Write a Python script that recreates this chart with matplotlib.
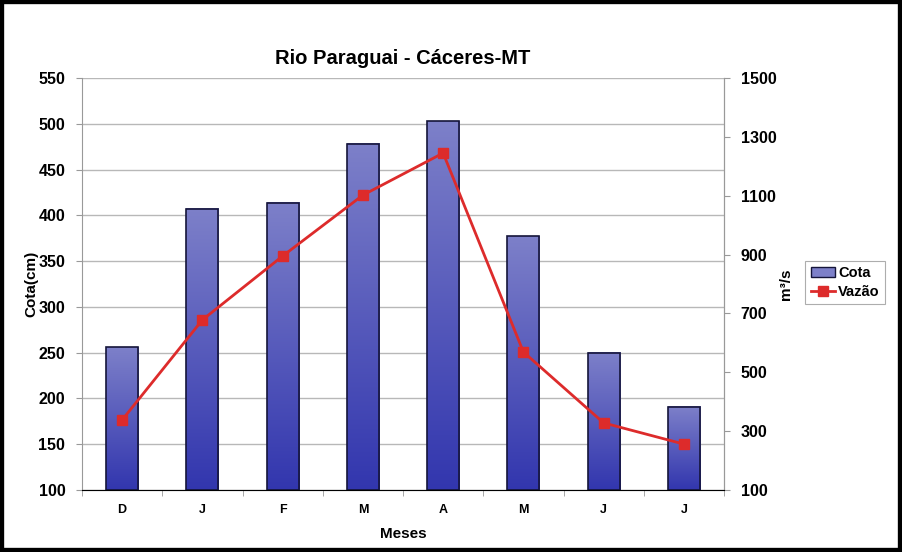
import numpy as np
import matplotlib.pyplot as plt
from matplotlib.patches import Rectangle
from matplotlib.lines import Line2D
from matplotlib.colors import LinearSegmentedColormap

plt.rcParams['font.family'] = ['Liberation Sans', 'DejaVu Sans']
plt.rcParams['font.weight'] = 'bold'

meses = ['D', 'J', 'F', 'M', 'A', 'M', 'J', 'J']
cota = [256, 407, 414, 478, 503, 377, 250, 191]
vazao = [338, 678, 895, 1102, 1245, 569, 328, 256]

fig = plt.figure(figsize=(9.02, 5.52), dpi=100)
ax = fig.add_axes([0.0909, 0.1123, 0.7118, 0.7464])

x = np.arange(len(meses))
w = 0.4

# gradient fill for bars (light top, dark bottom)
grad = np.linspace(0, 1, 256).reshape(-1, 1)
cmap = LinearSegmentedColormap.from_list('cota', ['#3236ae', '#7d80c9'])
for xi, h in zip(x, cota):
    ax.imshow(grad, extent=[xi - w / 2, xi + w / 2, 100, h], origin='lower',
              aspect='auto', cmap=cmap, zorder=2)
ax.bar(x, [c - 100 for c in cota], bottom=100, width=w, facecolor='none',
       edgecolor='#15153a', linewidth=1.2, zorder=3)

ax.set_xlim(-0.5, len(meses) - 0.5)
ax.set_ylim(100, 550)
ax.set_yticks(range(100, 551, 50))
ax.yaxis.grid(True, color='#b8b8b8', linewidth=1)
ax.set_axisbelow(True)
ax.set_xticks(x)
ax.set_xticklabels(meses, fontsize=9)
ax.set_xticks(np.arange(-0.5, len(meses), 1), minor=True)
ax.tick_params(axis='x', which='major', length=0, pad=10)
ax.tick_params(axis='x', which='minor', length=4, color='#999999')
ax.tick_params(axis='y', labelsize=11.5, length=4, color='#999999', pad=8)
ax.spines['top'].set_visible(False)
for s in ['left', 'bottom', 'right']:
    ax.spines[s].set_color('#999999')
ax.set_ylabel('Cota(cm)', fontsize=11, fontweight='bold', labelpad=0)
ax.set_xlabel('Meses', fontsize=11, fontweight='bold', labelpad=8)
ax.set_title('Rio Paraguai - Cáceres-MT', fontsize=14.5, fontweight='bold', pad=10)

ax2 = ax.twinx()
ax2.plot(x, vazao, color='#dd2b2b', linewidth=2, marker='s', markersize=7, zorder=4)
ax2.set_ylim(100, 1500)
ax2.set_yticks(range(100, 1501, 200))
ax2.tick_params(axis='y', labelsize=11.5, length=4, color='#999999', pad=8)
ax2.spines['top'].set_visible(False)
ax2.spines['right'].set_color('#999999')
ax2.spines['left'].set_visible(False)
ax2.set_ylabel('m³/s', fontsize=11, fontweight='bold', labelpad=2)

handles = [Rectangle((0, 0), 1, 1, facecolor='#7d80c9', edgecolor='#15153a'),
           Line2D([], [], color='#dd2b2b', linewidth=2, marker='s', markersize=7)]
leg = fig.legend(handles, ['Cota', 'Vazão'], loc='upper left',
                 bbox_to_anchor=(0.893, 0.527), fontsize=10.5, frameon=True,
                 fancybox=False, handlelength=1.7, handletextpad=0.2,
                 borderpad=0.35, borderaxespad=0, labelspacing=0.35)
leg.get_frame().set_edgecolor('#999999')
leg.get_frame().set_linewidth(0.8)

fig.patches.append(Rectangle((0, 0), 1, 1, transform=fig.transFigure,
                             fill=False, edgecolor='black', linewidth=6))

fig.savefig('out.png', dpi=100)
